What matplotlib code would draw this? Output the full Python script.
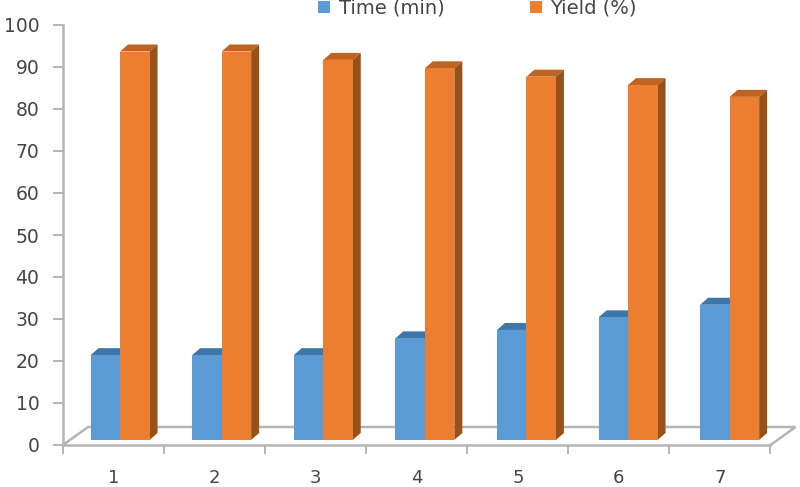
import matplotlib
matplotlib.use("Agg")
import matplotlib.pyplot as plt
import numpy as np

categories = ["1", "2", "3", "4", "5", "6", "7"]
time_min = [20.2, 20.2, 20.2, 24.2, 26.2, 29.2, 32.2]
yield_pct = [92.5, 92.5, 90.5, 88.5, 86.5, 84.5, 81.7]

W, H = 800, 487
fig = plt.figure(figsize=(W / 100, H / 100), dpi=100, facecolor="white")
L, R, T, B = 63, 770.5, 25, 445
ax = fig.add_axes([L / W, 1 - B / H, (R - L) / W, (B - T) / H])
ax.set_xlim(0.5, 7.5)
ax.set_ylim(0, 100)
ppx = (R - L) / 7
ppy = (B - T) / 100

GREY = "#b4b4b4"
TXT = "#454545"
BLUE, BLUE_TOP = "#5b9bd5", "#3f76a8"
ORANGE, ORANGE_TOP, ORANGE_SIDE = "#ed7d31", "#bf6420", "#97521c"

dx = 8 / ppx          # depth, horizontal
dy = 7 / ppy          # depth, vertical
base = 5 / ppy        # bars stand on the floor, slightly above zero
w = 29.5 / ppx
shift = 6.5 / ppx     # blue/orange seam relative to the first category centre
spread = 101.6 / ppx  # bar groups sit slightly wider apart than the ticks

# floor
fx0, fx1 = 0.5, 7.5
back = 18 / ppy
fdx = 25 / ppx
ax.plot([fx0, fx0 + fdx, fx1 + fdx, fx1], [0, back, back, 0],
        color=GREY, lw=1.8, clip_on=False, zorder=1, solid_joinstyle="miter")

x = np.arange(1, len(categories) + 1)
seam = 1 + shift + (x - 1) * spread


def box(xleft, v, face, top, side, label, z):
    x0 = xleft
    x1 = xleft + w
    y0 = base
    for a, b, val in zip(x0, x1, v):
        yt = base + val
        ax.fill([a, a + dx, b + dx, b], [yt, yt + dy, yt + dy, yt], color=top,
                lw=0, clip_on=False, zorder=z)
        ax.fill([b, b + dx, b + dx, b], [y0, y0 + dy, yt + dy, yt], color=side,
                lw=0, clip_on=False, zorder=z)
    return ax.bar(xleft, v, width=w, bottom=base, align="edge", color=face,
                  label=label, zorder=z + 0.5, clip_on=False)


box(seam - w, time_min, BLUE, BLUE_TOP, BLUE_TOP, "Time (min)", 2)
box(seam, yield_pct, ORANGE, ORANGE_TOP, ORANGE_SIDE, "Yield (%)", 3)

for s in ("top", "right"):
    ax.spines[s].set_visible(False)
for s in ("left", "bottom"):
    ax.spines[s].set_color(GREY)
    ax.spines[s].set_linewidth(1.8)
    ax.spines[s].set_zorder(1.5)

ax.set_yticks(np.arange(0, 101, 10))
ax.tick_params(axis="y", length=7, width=1.4, color=GREY, pad=10,
               labelsize=13.5, labelcolor=TXT)
ax.set_xticks(np.arange(0.5, 8.5, 1))
ax.set_xticklabels([])
ax.tick_params(axis="x", which="major", length=6.5, width=1.4, color=GREY, direction="out")
ax.set_xticks(x, minor=True)
ax.set_xticklabels(categories, minor=True)
ax.tick_params(axis="x", which="minor", length=0, pad=17, labelsize=13, labelcolor=TXT)

leg = ax.legend(ncol=2, loc="center", bbox_to_anchor=((477.5 - L) / (R - L), (B - 8.5) / (B - T)),
                frameon=False, fontsize=14, handlelength=0.62, handleheight=0.62,
                handletextpad=0.42, columnspacing=4.4, borderpad=0, labelcolor=TXT)

fig.savefig("out.png", dpi=100, facecolor="white")
